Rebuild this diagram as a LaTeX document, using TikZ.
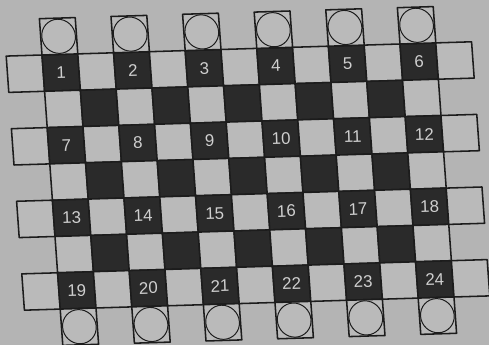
\documentclass[tikz,border=0pt]{standalone}
\usepackage{fontspec}
\setmainfont{Liberation Sans}
\usepackage{xcolor}
\usepackage{tikz}
\definecolor{paper}{HTML}{B4B4B4}
\definecolor{lightsq}{HTML}{BABABA}
\definecolor{darksq}{HTML}{2A2A2A}
\definecolor{inkline}{HTML}{1C1C1C}
\definecolor{numgray}{HTML}{CFCFCF}

\begin{document}
\begin{tikzpicture}[
  x=0.05cm, y=0.05cm,
  board/.style={draw=inkline, line width=2.2pt, line join=round},
  ring/.style={draw=inkline, line width=1.4pt},
  numlabel/.style={text=numgray, font=\fontsize{24}{24}\selectfont,
                   inner sep=0pt, rotate=1.7}
]
  \fill[paper] (0,0) rectangle (489,345);
  \clip (0,0) rectangle (489,345);
  \begin{scope}[shift={(6.2,288.9)}, x={(1.79cm,0.055cm)}, y={(0.13cm,-1.815cm)}]
    % squares of the board
    \foreach \r in {0,...,6}{
      \pgfmathtruncatemacro\first{mod(\r,2)}
      \pgfmathtruncatemacro\last{12-mod(\r,2)}
      \foreach \c in {\first,...,\last}{
        \pgfmathtruncatemacro\shade{mod(\r+\c,2)}
        \ifnum\shade=1 \def\cellfill{darksq}\else\def\cellfill{lightsq}\fi
        \draw[board, fill=\cellfill] (\c,\r) -- ++(1,0) -- ++(0,1) -- ++(-1,0) -- cycle;
      }
    }
    % boxes with circles above and below
    \foreach \c in {1,3,...,11}{
      \foreach \r in {-1,7}{
        \draw[board, fill=lightsq] (\c,\r) -- ++(1,0) -- ++(0,1) -- ++(-1,0) -- cycle;
        \draw[ring] (\c+0.5,\r+0.5) circle (0.47);
      }
    }
    % numbers
    \foreach \r in {0,2,4,6}{
      \foreach \k in {0,...,5}{
        \pgfmathtruncatemacro\num{3*\r+\k+1}
        \node[numlabel] (n\num) at (2*\k+1.5,\r+0.5) {\num};
      }
    }
  \end{scope}
\end{tikzpicture}
\end{document}
